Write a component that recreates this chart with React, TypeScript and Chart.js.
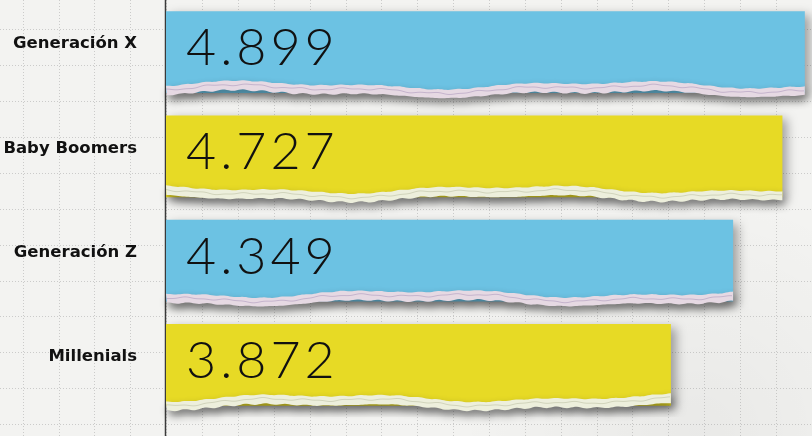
import React, { useEffect, useRef } from "react";
import { Chart, registerables } from "chart.js";

Chart.register(...registerables);

const categories = ["Generación X", "Baby Boomers", "Generación Z", "Millenials"];
const values = [4.899, 4.727, 4.349, 3.872];
const valueLabels = ["4.899", "4.727", "4.349", "3.872"];
const barColors = ["#6CC2E3", "#E7DA25", "#6CC2E3", "#E7DA25"];
const stripColors = ["#E6D9E3", "#EDEFDC", "#E6D9E3", "#EDEFDC"];

const W = 812;
const H = 436;

function torn(x: number, seed: number) {
  return (
    3 * Math.sin(x / 58 + seed) +
    1.6 * Math.sin(x / 23 + seed * 2.3) +
    0.4 * Math.sin(x / 3.1 + seed * 3.7)
  );
}

const paperPlugin = {
  id: "paper",
  beforeDraw(chart: any) {
    const ctx = chart.ctx;
    ctx.save();
    ctx.fillStyle = "#F3F3F1";
    ctx.fillRect(0, 0, W, H);
    const g = ctx.createRadialGradient(700, 430, 10, 700, 430, 240);
    g.addColorStop(0, "rgba(0,0,0,0.04)");
    g.addColorStop(1, "rgba(0,0,0,0)");
    ctx.fillStyle = g;
    ctx.fillRect(0, 0, W, H);
    ctx.strokeStyle = "rgba(140,140,140,0.38)";
    ctx.lineWidth = 1;
    ctx.setLineDash([1, 2]);
    for (let x = 22.7; x < W; x += 35.87) {
      ctx.beginPath();
      ctx.moveTo(Math.round(x) + 0.5, 0);
      ctx.lineTo(Math.round(x) + 0.5, H);
      ctx.stroke();
    }
    for (let y = 29.2; y < H; y += 35.9) {
      ctx.beginPath();
      ctx.moveTo(0, Math.round(y) + 0.5);
      ctx.lineTo(W, Math.round(y) + 0.5);
      ctx.stroke();
    }
    ctx.setLineDash([]);
    const x0 = chart.scales.x.getPixelForValue(0);
    ctx.strokeStyle = "#3a3a3a";
    ctx.lineWidth = 1.5;
    ctx.beginPath();
    ctx.moveTo(x0 - 0.5, 0);
    ctx.lineTo(x0 - 0.5, H);
    ctx.stroke();
    ctx.restore();
  },
  beforeDatasetDraw(chart: any) {
    const ctx = chart.ctx;
    ctx.save();
    ctx.shadowColor = "rgba(0,0,0,0.35)";
    ctx.shadowBlur = 10;
    ctx.shadowOffsetX = 5;
    ctx.shadowOffsetY = 4;
  },
  afterDatasetDraw(chart: any) {
    chart.ctx.restore();
  },
  afterDatasetsDraw(chart: any) {
    const ctx = chart.ctx;
    const meta = chart.getDatasetMeta(0);
    meta.data.forEach((bar: any, i: number) => {
      const left = bar.base;
      const right = bar.x;
      const bottom = bar.y + bar.height / 2;
      const top = bar.y - bar.height / 2;
      const seed = i * 1.7 + 0.4;
      ctx.save();
      ctx.shadowColor = "rgba(0,0,0,0.45)";
      ctx.shadowBlur = 8;
      ctx.shadowOffsetY = 5;
      ctx.shadowOffsetX = 2;
      ctx.beginPath();
      ctx.moveTo(left, bottom - 8 + torn(left, seed));
      for (let x = left; x <= right; x += 2) {
        ctx.lineTo(x, bottom - 8 + torn(x, seed));
      }
      ctx.lineTo(right, bottom - 8 + torn(right, seed));
      for (let x = right; x >= left; x -= 2) {
        ctx.lineTo(x, bottom + 1 + torn(x, seed) * 0.9 + 0.5 * Math.sin(x / 3.3 + seed));
      }
      ctx.closePath();
      ctx.fillStyle = stripColors[i];
      ctx.fill();
      ctx.restore();
      // fibre line
      ctx.save();
      ctx.strokeStyle = i % 2 === 0 ? "rgba(170,150,185,0.55)" : "rgba(185,190,160,0.55)";
      ctx.lineWidth = 1;
      ctx.beginPath();
      for (let x = left; x <= right; x += 2) {
        const y = bottom - 4 + torn(x, seed) + 0.8 * Math.sin(x / 7.1 + seed);
        if (x === left) ctx.moveTo(x, y);
        else ctx.lineTo(x, y);
      }
      ctx.stroke();
      ctx.restore();
      // value label
      ctx.save();
      ctx.fillStyle = "#111";
      ctx.font = "300 52px Lato";
      (ctx as any).letterSpacing = "4px";
      ctx.textBaseline = "alphabetic";
      ctx.textAlign = "left";
      ctx.fillText(valueLabels[i], left + 20, top + 54);
      ctx.restore();
    });
  },
};

export default function App() {
  const ref = useRef<HTMLCanvasElement>(null);
  useEffect(() => {
    if (!ref.current) return;
    const chart = new Chart(ref.current, {
      type: "bar",
      data: {
        labels: categories,
        datasets: [
          {
            data: values,
            backgroundColor: barColors,
            borderWidth: 0,
            categoryPercentage: 0.785,
            barPercentage: 1,
          },
        ],
      },
      options: {
        indexAxis: "y",
        animation: false,
        responsive: false,
        devicePixelRatio: 1,
        layout: { padding: { top: 0, bottom: 19, left: 0, right: 0 } },
        plugins: { legend: { display: false }, tooltip: { enabled: false } },
        scales: {
          x: { display: false, min: 0, max: 4.954 },
          y: {
            grid: { display: false, drawTicks: false },
            border: { display: false },
            afterFit: (s: any) => {
              s.width = 166;
              s.paddingTop = 0;
              s.paddingBottom = 0;
            },
            ticks: {
              padding: 29,
              labelOffset: -8,
              color: "#111",
              font: { family: "'DejaVu Sans'", weight: "bold", size: 16.5 },
            },
          },
        },
      },
      plugins: [paperPlugin],
    });
    return () => chart.destroy();
  }, []);
  return (
    <div style={{ position: "fixed", left: 0, top: 0, width: W, height: H }}>
      <canvas ref={ref} width={W} height={H} style={{ width: W, height: H, display: "block" }} />
    </div>
  );
}
